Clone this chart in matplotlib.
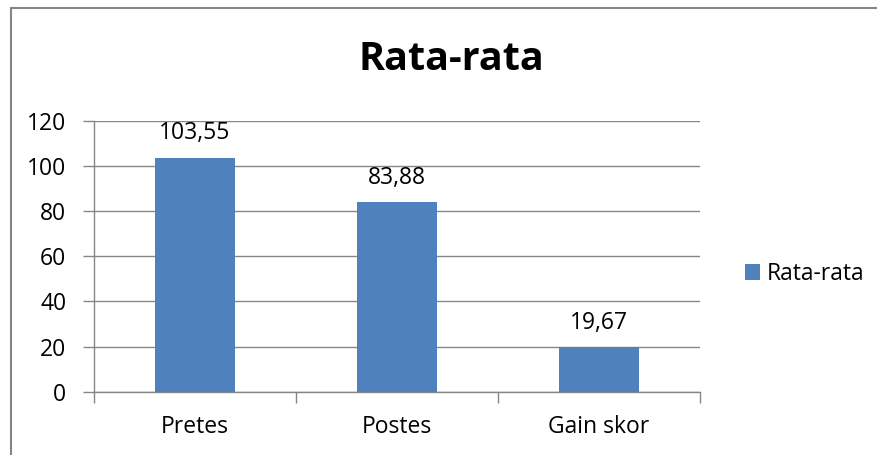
import matplotlib
matplotlib.use('Agg')
import matplotlib.pyplot as plt
from matplotlib.patches import Rectangle

categories = ['Pretes', 'Postes', 'Gain skor']
values = [103.55, 83.88, 19.67]
value_labels = ['103,55', '83,88', '19,67']
series_name = 'Rata-rata'
y_ticks = [0, 20, 40, 60, 80, 100, 120]

plt.rcParams['font.family'] = ['Open Sans', 'DejaVu Sans']
bar_color = '#4F81BD'
axis_gray = '#868686'
fs = 16.5

fig = plt.figure(figsize=(8.78, 4.55), dpi=100)
ax = fig.add_axes([94 / 878, 1 - 391.7 / 455, (700 - 94) / 878, (391.7 - 120.7) / 455])

x = list(range(len(categories)))
bars = ax.bar(x, values, width=0.4, color=bar_color, label=series_name, zorder=3)

ax.set_xlim(-0.5, len(categories) - 0.5)
ax.set_ylim(0, 120)
ax.set_yticks(y_ticks)
ax.yaxis.grid(True, color=axis_gray, linewidth=1.0, zorder=0)

# category boundaries carry the tick marks, labels sit on minor ticks
ax.set_xticks([i - 0.5 for i in range(len(categories) + 1)])
ax.set_xticklabels([])
ax.set_xticks(x, minor=True)
ax.set_xticklabels(categories, minor=True)
ax.tick_params(axis='x', which='major', length=8, width=1.0, color=axis_gray, direction='out')
ax.tick_params(axis='x', which='minor', length=0, pad=16.5, labelsize=fs)
ax.tick_params(axis='y', length=8, width=1.0, color=axis_gray, direction='out', pad=12, labelsize=fs)

for s in ['top', 'right']:
    ax.spines[s].set_visible(False)
for s in ['left', 'bottom']:
    ax.spines[s].set_color(axis_gray)
    ax.spines[s].set_linewidth(1.0)

for b, lab in zip(bars, value_labels):
    ax.annotate(lab, (b.get_x() + b.get_width() / 2, b.get_height()),
                xytext=(0, 13.5), textcoords='offset points',
                ha='center', va='baseline', fontsize=fs)

fig.text(451 / 878, 1 - 60 / 455, 'Rata-rata', ha='center', va='center',
         fontsize=28.5, fontweight='bold')

fig.legend(handles=[bars], labels=[series_name], loc='center left',
           bbox_to_anchor=(734 / 878, 1 - 274 / 455), frameon=False,
           fontsize=fs, borderpad=0, handlelength=0.65, handleheight=0.65,
           handletextpad=0.3)

# chart area border (only top and left edges are inside the picture)
fig.patches.append(Rectangle((11 / 878, -0.1), 2, 1 - 8 / 455 + 0.1,
                             transform=fig.transFigure, fill=False,
                             edgecolor=axis_gray, linewidth=1.5))

fig.savefig('out.png', dpi=100)
